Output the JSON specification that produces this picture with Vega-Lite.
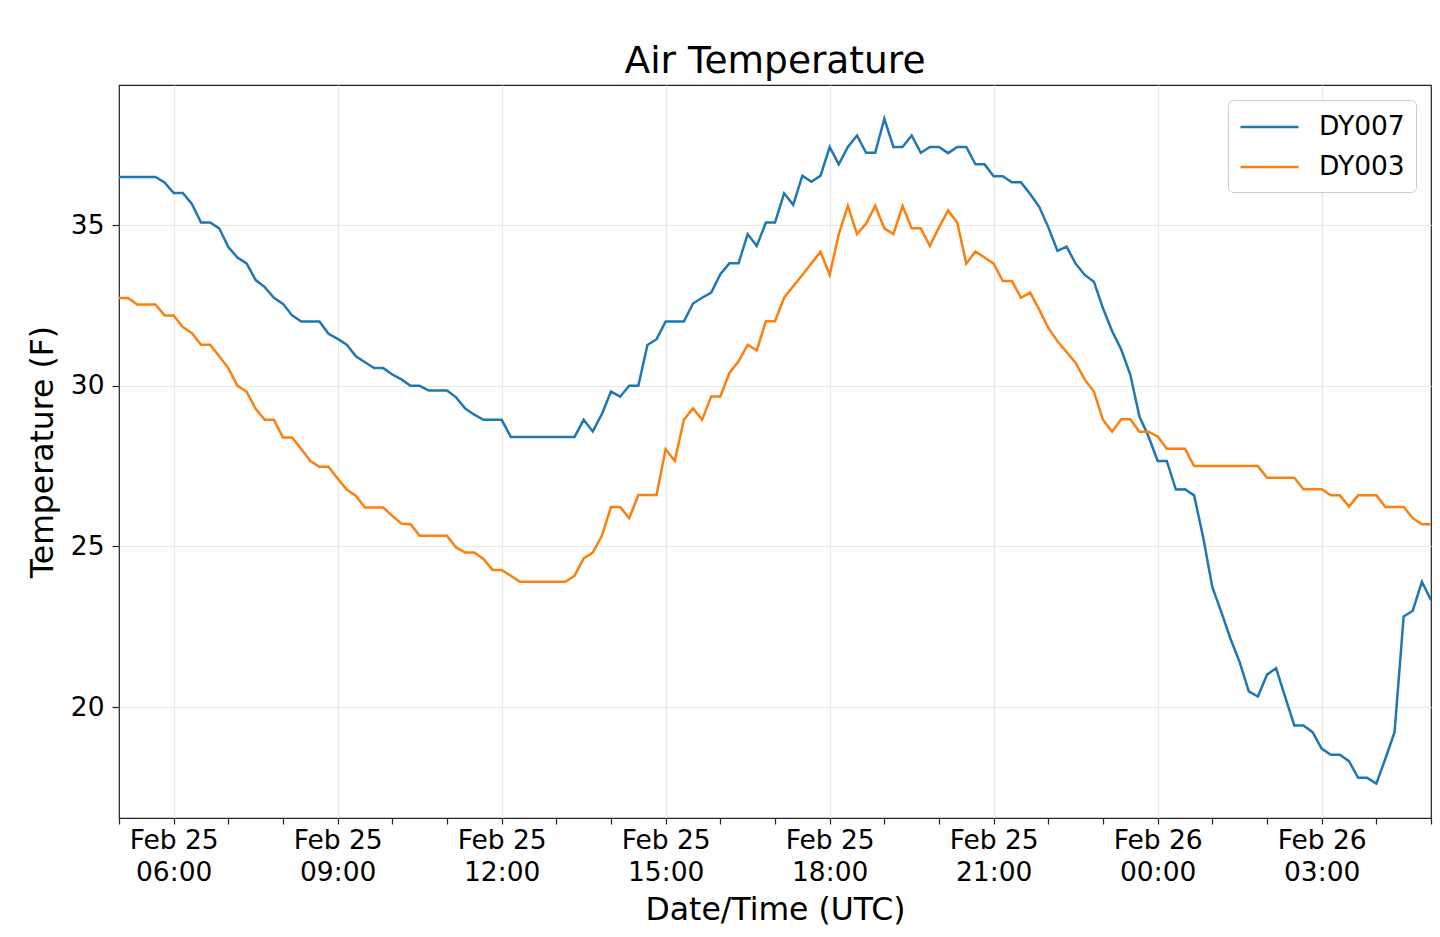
{
  "$schema": "https://vega.github.io/schema/vega-lite/v6.json",
  "description": "Air temperature at two stations, 10-minute readings.",
  "autosize": "none",
  "width": 1312,
  "height": 733,
  "padding": {"left": 119, "top": 85, "right": 9, "bottom": 119},
  "background": "white",
  "title": {
    "text": "Air Temperature",
    "font": "DejaVu Sans",
    "fontSize": 37.5,
    "fontWeight": "normal",
    "color": "black",
    "anchor": "middle",
    "offset": 5
  },
  "data": {
    "values": [
      {"time": "2020-02-25T05:00:00Z", "station": "DY007", "temp": 36.5},
      {"time": "2020-02-25T05:10:00Z", "station": "DY007", "temp": 36.5},
      {"time": "2020-02-25T05:20:00Z", "station": "DY007", "temp": 36.5},
      {"time": "2020-02-25T05:30:00Z", "station": "DY007", "temp": 36.5},
      {"time": "2020-02-25T05:40:00Z", "station": "DY007", "temp": 36.5},
      {"time": "2020-02-25T05:50:00Z", "station": "DY007", "temp": 36.33},
      {"time": "2020-02-25T06:00:00Z", "station": "DY007", "temp": 36.0},
      {"time": "2020-02-25T06:10:00Z", "station": "DY007", "temp": 36.0},
      {"time": "2020-02-25T06:20:00Z", "station": "DY007", "temp": 35.66},
      {"time": "2020-02-25T06:30:00Z", "station": "DY007", "temp": 35.08},
      {"time": "2020-02-25T06:40:00Z", "station": "DY007", "temp": 35.08},
      {"time": "2020-02-25T06:50:00Z", "station": "DY007", "temp": 34.9},
      {"time": "2020-02-25T07:00:00Z", "station": "DY007", "temp": 34.32},
      {"time": "2020-02-25T07:10:00Z", "station": "DY007", "temp": 33.99},
      {"time": "2020-02-25T07:20:00Z", "station": "DY007", "temp": 33.81},
      {"time": "2020-02-25T07:30:00Z", "station": "DY007", "temp": 33.29},
      {"time": "2020-02-25T07:40:00Z", "station": "DY007", "temp": 33.07},
      {"time": "2020-02-25T07:50:00Z", "station": "DY007", "temp": 32.74},
      {"time": "2020-02-25T08:00:00Z", "station": "DY007", "temp": 32.55},
      {"time": "2020-02-25T08:10:00Z", "station": "DY007", "temp": 32.19},
      {"time": "2020-02-25T08:20:00Z", "station": "DY007", "temp": 32.0},
      {"time": "2020-02-25T08:30:00Z", "station": "DY007", "temp": 32.0},
      {"time": "2020-02-25T08:40:00Z", "station": "DY007", "temp": 32.0},
      {"time": "2020-02-25T08:50:00Z", "station": "DY007", "temp": 31.62},
      {"time": "2020-02-25T09:00:00Z", "station": "DY007", "temp": 31.46},
      {"time": "2020-02-25T09:10:00Z", "station": "DY007", "temp": 31.28},
      {"time": "2020-02-25T09:20:00Z", "station": "DY007", "temp": 30.92},
      {"time": "2020-02-25T09:30:00Z", "station": "DY007", "temp": 30.73},
      {"time": "2020-02-25T09:40:00Z", "station": "DY007", "temp": 30.55},
      {"time": "2020-02-25T09:50:00Z", "station": "DY007", "temp": 30.55},
      {"time": "2020-02-25T10:00:00Z", "station": "DY007", "temp": 30.35},
      {"time": "2020-02-25T10:10:00Z", "station": "DY007", "temp": 30.2},
      {"time": "2020-02-25T10:20:00Z", "station": "DY007", "temp": 30.0},
      {"time": "2020-02-25T10:30:00Z", "station": "DY007", "temp": 30.0},
      {"time": "2020-02-25T10:40:00Z", "station": "DY007", "temp": 29.85},
      {"time": "2020-02-25T10:50:00Z", "station": "DY007", "temp": 29.85},
      {"time": "2020-02-25T11:00:00Z", "station": "DY007", "temp": 29.85},
      {"time": "2020-02-25T11:10:00Z", "station": "DY007", "temp": 29.64},
      {"time": "2020-02-25T11:20:00Z", "station": "DY007", "temp": 29.29},
      {"time": "2020-02-25T11:30:00Z", "station": "DY007", "temp": 29.1},
      {"time": "2020-02-25T11:40:00Z", "station": "DY007", "temp": 28.94},
      {"time": "2020-02-25T11:50:00Z", "station": "DY007", "temp": 28.94},
      {"time": "2020-02-25T12:00:00Z", "station": "DY007", "temp": 28.94},
      {"time": "2020-02-25T12:10:00Z", "station": "DY007", "temp": 28.41},
      {"time": "2020-02-25T12:20:00Z", "station": "DY007", "temp": 28.41},
      {"time": "2020-02-25T12:30:00Z", "station": "DY007", "temp": 28.41},
      {"time": "2020-02-25T12:40:00Z", "station": "DY007", "temp": 28.41},
      {"time": "2020-02-25T12:50:00Z", "station": "DY007", "temp": 28.41},
      {"time": "2020-02-25T13:00:00Z", "station": "DY007", "temp": 28.41},
      {"time": "2020-02-25T13:10:00Z", "station": "DY007", "temp": 28.41},
      {"time": "2020-02-25T13:20:00Z", "station": "DY007", "temp": 28.41},
      {"time": "2020-02-25T13:30:00Z", "station": "DY007", "temp": 28.94},
      {"time": "2020-02-25T13:40:00Z", "station": "DY007", "temp": 28.58},
      {"time": "2020-02-25T13:50:00Z", "station": "DY007", "temp": 29.12},
      {"time": "2020-02-25T14:00:00Z", "station": "DY007", "temp": 29.82},
      {"time": "2020-02-25T14:10:00Z", "station": "DY007", "temp": 29.66},
      {"time": "2020-02-25T14:20:00Z", "station": "DY007", "temp": 30.0},
      {"time": "2020-02-25T14:30:00Z", "station": "DY007", "temp": 30.0},
      {"time": "2020-02-25T14:40:00Z", "station": "DY007", "temp": 31.27},
      {"time": "2020-02-25T14:50:00Z", "station": "DY007", "temp": 31.45},
      {"time": "2020-02-25T15:00:00Z", "station": "DY007", "temp": 32.0},
      {"time": "2020-02-25T15:10:00Z", "station": "DY007", "temp": 32.0},
      {"time": "2020-02-25T15:20:00Z", "station": "DY007", "temp": 32.0},
      {"time": "2020-02-25T15:30:00Z", "station": "DY007", "temp": 32.56},
      {"time": "2020-02-25T15:40:00Z", "station": "DY007", "temp": 32.74},
      {"time": "2020-02-25T15:50:00Z", "station": "DY007", "temp": 32.9},
      {"time": "2020-02-25T16:00:00Z", "station": "DY007", "temp": 33.47},
      {"time": "2020-02-25T16:10:00Z", "station": "DY007", "temp": 33.81},
      {"time": "2020-02-25T16:20:00Z", "station": "DY007", "temp": 33.81},
      {"time": "2020-02-25T16:30:00Z", "station": "DY007", "temp": 34.72},
      {"time": "2020-02-25T16:40:00Z", "station": "DY007", "temp": 34.35},
      {"time": "2020-02-25T16:50:00Z", "station": "DY007", "temp": 35.08},
      {"time": "2020-02-25T17:00:00Z", "station": "DY007", "temp": 35.08},
      {"time": "2020-02-25T17:10:00Z", "station": "DY007", "temp": 35.99},
      {"time": "2020-02-25T17:20:00Z", "station": "DY007", "temp": 35.63},
      {"time": "2020-02-25T17:30:00Z", "station": "DY007", "temp": 36.54},
      {"time": "2020-02-25T17:40:00Z", "station": "DY007", "temp": 36.35},
      {"time": "2020-02-25T17:50:00Z", "station": "DY007", "temp": 36.54},
      {"time": "2020-02-25T18:00:00Z", "station": "DY007", "temp": 37.43},
      {"time": "2020-02-25T18:10:00Z", "station": "DY007", "temp": 36.89},
      {"time": "2020-02-25T18:20:00Z", "station": "DY007", "temp": 37.43},
      {"time": "2020-02-25T18:30:00Z", "station": "DY007", "temp": 37.79},
      {"time": "2020-02-25T18:40:00Z", "station": "DY007", "temp": 37.25},
      {"time": "2020-02-25T18:50:00Z", "station": "DY007", "temp": 37.25},
      {"time": "2020-02-25T19:00:00Z", "station": "DY007", "temp": 38.31},
      {"time": "2020-02-25T19:10:00Z", "station": "DY007", "temp": 37.43},
      {"time": "2020-02-25T19:20:00Z", "station": "DY007", "temp": 37.43},
      {"time": "2020-02-25T19:30:00Z", "station": "DY007", "temp": 37.79},
      {"time": "2020-02-25T19:40:00Z", "station": "DY007", "temp": 37.25},
      {"time": "2020-02-25T19:50:00Z", "station": "DY007", "temp": 37.43},
      {"time": "2020-02-25T20:00:00Z", "station": "DY007", "temp": 37.43},
      {"time": "2020-02-25T20:10:00Z", "station": "DY007", "temp": 37.24},
      {"time": "2020-02-25T20:20:00Z", "station": "DY007", "temp": 37.43},
      {"time": "2020-02-25T20:30:00Z", "station": "DY007", "temp": 37.43},
      {"time": "2020-02-25T20:40:00Z", "station": "DY007", "temp": 36.89},
      {"time": "2020-02-25T20:50:00Z", "station": "DY007", "temp": 36.89},
      {"time": "2020-02-25T21:00:00Z", "station": "DY007", "temp": 36.52},
      {"time": "2020-02-25T21:10:00Z", "station": "DY007", "temp": 36.52},
      {"time": "2020-02-25T21:20:00Z", "station": "DY007", "temp": 36.33},
      {"time": "2020-02-25T21:30:00Z", "station": "DY007", "temp": 36.33},
      {"time": "2020-02-25T21:40:00Z", "station": "DY007", "temp": 35.97},
      {"time": "2020-02-25T21:50:00Z", "station": "DY007", "temp": 35.57},
      {"time": "2020-02-25T22:00:00Z", "station": "DY007", "temp": 34.93},
      {"time": "2020-02-25T22:10:00Z", "station": "DY007", "temp": 34.2},
      {"time": "2020-02-25T22:20:00Z", "station": "DY007", "temp": 34.33},
      {"time": "2020-02-25T22:30:00Z", "station": "DY007", "temp": 33.8},
      {"time": "2020-02-25T22:40:00Z", "station": "DY007", "temp": 33.45},
      {"time": "2020-02-25T22:50:00Z", "station": "DY007", "temp": 33.24},
      {"time": "2020-02-25T23:00:00Z", "station": "DY007", "temp": 32.41},
      {"time": "2020-02-25T23:10:00Z", "station": "DY007", "temp": 31.7},
      {"time": "2020-02-25T23:20:00Z", "station": "DY007", "temp": 31.13},
      {"time": "2020-02-25T23:30:00Z", "station": "DY007", "temp": 30.34},
      {"time": "2020-02-25T23:40:00Z", "station": "DY007", "temp": 29.04},
      {"time": "2020-02-25T23:50:00Z", "station": "DY007", "temp": 28.42},
      {"time": "2020-02-26T00:00:00Z", "station": "DY007", "temp": 27.66},
      {"time": "2020-02-26T00:10:00Z", "station": "DY007", "temp": 27.66},
      {"time": "2020-02-26T00:20:00Z", "station": "DY007", "temp": 26.77},
      {"time": "2020-02-26T00:30:00Z", "station": "DY007", "temp": 26.78},
      {"time": "2020-02-26T00:40:00Z", "station": "DY007", "temp": 26.59},
      {"time": "2020-02-26T00:50:00Z", "station": "DY007", "temp": 25.28},
      {"time": "2020-02-26T01:00:00Z", "station": "DY007", "temp": 23.73},
      {"time": "2020-02-26T01:10:00Z", "station": "DY007", "temp": 22.95},
      {"time": "2020-02-26T01:20:00Z", "station": "DY007", "temp": 22.12},
      {"time": "2020-02-26T01:30:00Z", "station": "DY007", "temp": 21.4},
      {"time": "2020-02-26T01:40:00Z", "station": "DY007", "temp": 20.49},
      {"time": "2020-02-26T01:50:00Z", "station": "DY007", "temp": 20.33},
      {"time": "2020-02-26T02:00:00Z", "station": "DY007", "temp": 21.01},
      {"time": "2020-02-26T02:10:00Z", "station": "DY007", "temp": 21.21},
      {"time": "2020-02-26T02:20:00Z", "station": "DY007", "temp": 20.31},
      {"time": "2020-02-26T02:30:00Z", "station": "DY007", "temp": 19.43},
      {"time": "2020-02-26T02:40:00Z", "station": "DY007", "temp": 19.43},
      {"time": "2020-02-26T02:50:00Z", "station": "DY007", "temp": 19.22},
      {"time": "2020-02-26T03:00:00Z", "station": "DY007", "temp": 18.71},
      {"time": "2020-02-26T03:10:00Z", "station": "DY007", "temp": 18.52},
      {"time": "2020-02-26T03:20:00Z", "station": "DY007", "temp": 18.52},
      {"time": "2020-02-26T03:30:00Z", "station": "DY007", "temp": 18.32},
      {"time": "2020-02-26T03:40:00Z", "station": "DY007", "temp": 17.8},
      {"time": "2020-02-26T03:50:00Z", "station": "DY007", "temp": 17.8},
      {"time": "2020-02-26T04:00:00Z", "station": "DY007", "temp": 17.62},
      {"time": "2020-02-26T04:10:00Z", "station": "DY007", "temp": 18.4},
      {"time": "2020-02-26T04:20:00Z", "station": "DY007", "temp": 19.22},
      {"time": "2020-02-26T04:30:00Z", "station": "DY007", "temp": 22.82},
      {"time": "2020-02-26T04:40:00Z", "station": "DY007", "temp": 23.0},
      {"time": "2020-02-26T04:50:00Z", "station": "DY007", "temp": 23.9},
      {"time": "2020-02-26T05:00:00Z", "station": "DY007", "temp": 23.33},
      {"time": "2020-02-25T05:00:00Z", "station": "DY003", "temp": 32.73},
      {"time": "2020-02-25T05:10:00Z", "station": "DY003", "temp": 32.73},
      {"time": "2020-02-25T05:20:00Z", "station": "DY003", "temp": 32.53},
      {"time": "2020-02-25T05:30:00Z", "station": "DY003", "temp": 32.53},
      {"time": "2020-02-25T05:40:00Z", "station": "DY003", "temp": 32.53},
      {"time": "2020-02-25T05:50:00Z", "station": "DY003", "temp": 32.19},
      {"time": "2020-02-25T06:00:00Z", "station": "DY003", "temp": 32.19},
      {"time": "2020-02-25T06:10:00Z", "station": "DY003", "temp": 31.83},
      {"time": "2020-02-25T06:20:00Z", "station": "DY003", "temp": 31.64},
      {"time": "2020-02-25T06:30:00Z", "station": "DY003", "temp": 31.28},
      {"time": "2020-02-25T06:40:00Z", "station": "DY003", "temp": 31.28},
      {"time": "2020-02-25T06:50:00Z", "station": "DY003", "temp": 30.92},
      {"time": "2020-02-25T07:00:00Z", "station": "DY003", "temp": 30.55},
      {"time": "2020-02-25T07:10:00Z", "station": "DY003", "temp": 30.0},
      {"time": "2020-02-25T07:20:00Z", "station": "DY003", "temp": 29.82},
      {"time": "2020-02-25T07:30:00Z", "station": "DY003", "temp": 29.28},
      {"time": "2020-02-25T07:40:00Z", "station": "DY003", "temp": 28.94},
      {"time": "2020-02-25T07:50:00Z", "station": "DY003", "temp": 28.94},
      {"time": "2020-02-25T08:00:00Z", "station": "DY003", "temp": 28.39},
      {"time": "2020-02-25T08:10:00Z", "station": "DY003", "temp": 28.39},
      {"time": "2020-02-25T08:20:00Z", "station": "DY003", "temp": 28.03},
      {"time": "2020-02-25T08:30:00Z", "station": "DY003", "temp": 27.66},
      {"time": "2020-02-25T08:40:00Z", "station": "DY003", "temp": 27.48},
      {"time": "2020-02-25T08:50:00Z", "station": "DY003", "temp": 27.48},
      {"time": "2020-02-25T09:00:00Z", "station": "DY003", "temp": 27.11},
      {"time": "2020-02-25T09:10:00Z", "station": "DY003", "temp": 26.77},
      {"time": "2020-02-25T09:20:00Z", "station": "DY003", "temp": 26.57},
      {"time": "2020-02-25T09:30:00Z", "station": "DY003", "temp": 26.21},
      {"time": "2020-02-25T09:40:00Z", "station": "DY003", "temp": 26.21},
      {"time": "2020-02-25T09:50:00Z", "station": "DY003", "temp": 26.21},
      {"time": "2020-02-25T10:00:00Z", "station": "DY003", "temp": 25.95},
      {"time": "2020-02-25T10:10:00Z", "station": "DY003", "temp": 25.71},
      {"time": "2020-02-25T10:20:00Z", "station": "DY003", "temp": 25.69},
      {"time": "2020-02-25T10:30:00Z", "station": "DY003", "temp": 25.33},
      {"time": "2020-02-25T10:40:00Z", "station": "DY003", "temp": 25.33},
      {"time": "2020-02-25T10:50:00Z", "station": "DY003", "temp": 25.33},
      {"time": "2020-02-25T11:00:00Z", "station": "DY003", "temp": 25.33},
      {"time": "2020-02-25T11:10:00Z", "station": "DY003", "temp": 24.97},
      {"time": "2020-02-25T11:20:00Z", "station": "DY003", "temp": 24.81},
      {"time": "2020-02-25T11:30:00Z", "station": "DY003", "temp": 24.81},
      {"time": "2020-02-25T11:40:00Z", "station": "DY003", "temp": 24.61},
      {"time": "2020-02-25T11:50:00Z", "station": "DY003", "temp": 24.27},
      {"time": "2020-02-25T12:00:00Z", "station": "DY003", "temp": 24.27},
      {"time": "2020-02-25T12:10:00Z", "station": "DY003", "temp": 24.09},
      {"time": "2020-02-25T12:20:00Z", "station": "DY003", "temp": 23.9},
      {"time": "2020-02-25T12:30:00Z", "station": "DY003", "temp": 23.9},
      {"time": "2020-02-25T12:40:00Z", "station": "DY003", "temp": 23.9},
      {"time": "2020-02-25T12:50:00Z", "station": "DY003", "temp": 23.9},
      {"time": "2020-02-25T13:00:00Z", "station": "DY003", "temp": 23.9},
      {"time": "2020-02-25T13:10:00Z", "station": "DY003", "temp": 23.9},
      {"time": "2020-02-25T13:20:00Z", "station": "DY003", "temp": 24.09},
      {"time": "2020-02-25T13:30:00Z", "station": "DY003", "temp": 24.63},
      {"time": "2020-02-25T13:40:00Z", "station": "DY003", "temp": 24.81},
      {"time": "2020-02-25T13:50:00Z", "station": "DY003", "temp": 25.33},
      {"time": "2020-02-25T14:00:00Z", "station": "DY003", "temp": 26.23},
      {"time": "2020-02-25T14:10:00Z", "station": "DY003", "temp": 26.23},
      {"time": "2020-02-25T14:20:00Z", "station": "DY003", "temp": 25.88},
      {"time": "2020-02-25T14:30:00Z", "station": "DY003", "temp": 26.6},
      {"time": "2020-02-25T14:40:00Z", "station": "DY003", "temp": 26.6},
      {"time": "2020-02-25T14:50:00Z", "station": "DY003", "temp": 26.6},
      {"time": "2020-02-25T15:00:00Z", "station": "DY003", "temp": 28.03},
      {"time": "2020-02-25T15:10:00Z", "station": "DY003", "temp": 27.66},
      {"time": "2020-02-25T15:20:00Z", "station": "DY003", "temp": 28.94},
      {"time": "2020-02-25T15:30:00Z", "station": "DY003", "temp": 29.3},
      {"time": "2020-02-25T15:40:00Z", "station": "DY003", "temp": 28.94},
      {"time": "2020-02-25T15:50:00Z", "station": "DY003", "temp": 29.67},
      {"time": "2020-02-25T16:00:00Z", "station": "DY003", "temp": 29.67},
      {"time": "2020-02-25T16:10:00Z", "station": "DY003", "temp": 30.4},
      {"time": "2020-02-25T16:20:00Z", "station": "DY003", "temp": 30.76},
      {"time": "2020-02-25T16:30:00Z", "station": "DY003", "temp": 31.28},
      {"time": "2020-02-25T16:40:00Z", "station": "DY003", "temp": 31.1},
      {"time": "2020-02-25T16:50:00Z", "station": "DY003", "temp": 32.01},
      {"time": "2020-02-25T17:00:00Z", "station": "DY003", "temp": 32.01},
      {"time": "2020-02-25T17:10:00Z", "station": "DY003", "temp": 32.74},
      {"time": "2020-02-25T17:20:00Z", "station": "DY003", "temp": 33.1},
      {"time": "2020-02-25T17:30:00Z", "station": "DY003", "temp": 33.45},
      {"time": "2020-02-25T17:40:00Z", "station": "DY003", "temp": 33.81},
      {"time": "2020-02-25T17:50:00Z", "station": "DY003", "temp": 34.17},
      {"time": "2020-02-25T18:00:00Z", "station": "DY003", "temp": 33.45},
      {"time": "2020-02-25T18:10:00Z", "station": "DY003", "temp": 34.72},
      {"time": "2020-02-25T18:20:00Z", "station": "DY003", "temp": 35.6},
      {"time": "2020-02-25T18:30:00Z", "station": "DY003", "temp": 34.72},
      {"time": "2020-02-25T18:40:00Z", "station": "DY003", "temp": 35.05},
      {"time": "2020-02-25T18:50:00Z", "station": "DY003", "temp": 35.6},
      {"time": "2020-02-25T19:00:00Z", "station": "DY003", "temp": 34.9},
      {"time": "2020-02-25T19:10:00Z", "station": "DY003", "temp": 34.72},
      {"time": "2020-02-25T19:20:00Z", "station": "DY003", "temp": 35.6},
      {"time": "2020-02-25T19:30:00Z", "station": "DY003", "temp": 34.9},
      {"time": "2020-02-25T19:40:00Z", "station": "DY003", "temp": 34.9},
      {"time": "2020-02-25T19:50:00Z", "station": "DY003", "temp": 34.35},
      {"time": "2020-02-25T20:00:00Z", "station": "DY003", "temp": 34.93},
      {"time": "2020-02-25T20:10:00Z", "station": "DY003", "temp": 35.45},
      {"time": "2020-02-25T20:20:00Z", "station": "DY003", "temp": 35.08},
      {"time": "2020-02-25T20:30:00Z", "station": "DY003", "temp": 33.8},
      {"time": "2020-02-25T20:40:00Z", "station": "DY003", "temp": 34.18},
      {"time": "2020-02-25T20:50:00Z", "station": "DY003", "temp": 33.99},
      {"time": "2020-02-25T21:00:00Z", "station": "DY003", "temp": 33.8},
      {"time": "2020-02-25T21:10:00Z", "station": "DY003", "temp": 33.26},
      {"time": "2020-02-25T21:20:00Z", "station": "DY003", "temp": 33.26},
      {"time": "2020-02-25T21:30:00Z", "station": "DY003", "temp": 32.74},
      {"time": "2020-02-25T21:40:00Z", "station": "DY003", "temp": 32.9},
      {"time": "2020-02-25T21:50:00Z", "station": "DY003", "temp": 32.37},
      {"time": "2020-02-25T22:00:00Z", "station": "DY003", "temp": 31.8},
      {"time": "2020-02-25T22:10:00Z", "station": "DY003", "temp": 31.39},
      {"time": "2020-02-25T22:20:00Z", "station": "DY003", "temp": 31.05},
      {"time": "2020-02-25T22:30:00Z", "station": "DY003", "temp": 30.71},
      {"time": "2020-02-25T22:40:00Z", "station": "DY003", "temp": 30.19},
      {"time": "2020-02-25T22:50:00Z", "station": "DY003", "temp": 29.82},
      {"time": "2020-02-25T23:00:00Z", "station": "DY003", "temp": 28.94},
      {"time": "2020-02-25T23:10:00Z", "station": "DY003", "temp": 28.57},
      {"time": "2020-02-25T23:20:00Z", "station": "DY003", "temp": 28.96},
      {"time": "2020-02-25T23:30:00Z", "station": "DY003", "temp": 28.96},
      {"time": "2020-02-25T23:40:00Z", "station": "DY003", "temp": 28.57},
      {"time": "2020-02-25T23:50:00Z", "station": "DY003", "temp": 28.57},
      {"time": "2020-02-26T00:00:00Z", "station": "DY003", "temp": 28.42},
      {"time": "2020-02-26T00:10:00Z", "station": "DY003", "temp": 28.04},
      {"time": "2020-02-26T00:20:00Z", "station": "DY003", "temp": 28.04},
      {"time": "2020-02-26T00:30:00Z", "station": "DY003", "temp": 28.04},
      {"time": "2020-02-26T00:40:00Z", "station": "DY003", "temp": 27.5},
      {"time": "2020-02-26T00:50:00Z", "station": "DY003", "temp": 27.5},
      {"time": "2020-02-26T01:00:00Z", "station": "DY003", "temp": 27.5},
      {"time": "2020-02-26T01:10:00Z", "station": "DY003", "temp": 27.5},
      {"time": "2020-02-26T01:20:00Z", "station": "DY003", "temp": 27.5},
      {"time": "2020-02-26T01:30:00Z", "station": "DY003", "temp": 27.5},
      {"time": "2020-02-26T01:40:00Z", "station": "DY003", "temp": 27.5},
      {"time": "2020-02-26T01:50:00Z", "station": "DY003", "temp": 27.5},
      {"time": "2020-02-26T02:00:00Z", "station": "DY003", "temp": 27.14},
      {"time": "2020-02-26T02:10:00Z", "station": "DY003", "temp": 27.14},
      {"time": "2020-02-26T02:20:00Z", "station": "DY003", "temp": 27.14},
      {"time": "2020-02-26T02:30:00Z", "station": "DY003", "temp": 27.14},
      {"time": "2020-02-26T02:40:00Z", "station": "DY003", "temp": 26.78},
      {"time": "2020-02-26T02:50:00Z", "station": "DY003", "temp": 26.78},
      {"time": "2020-02-26T03:00:00Z", "station": "DY003", "temp": 26.78},
      {"time": "2020-02-26T03:10:00Z", "station": "DY003", "temp": 26.59},
      {"time": "2020-02-26T03:20:00Z", "station": "DY003", "temp": 26.59},
      {"time": "2020-02-26T03:30:00Z", "station": "DY003", "temp": 26.24},
      {"time": "2020-02-26T03:40:00Z", "station": "DY003", "temp": 26.59},
      {"time": "2020-02-26T03:50:00Z", "station": "DY003", "temp": 26.59},
      {"time": "2020-02-26T04:00:00Z", "station": "DY003", "temp": 26.59},
      {"time": "2020-02-26T04:10:00Z", "station": "DY003", "temp": 26.23},
      {"time": "2020-02-26T04:20:00Z", "station": "DY003", "temp": 26.23},
      {"time": "2020-02-26T04:30:00Z", "station": "DY003", "temp": 26.23},
      {"time": "2020-02-26T04:40:00Z", "station": "DY003", "temp": 25.88},
      {"time": "2020-02-26T04:50:00Z", "station": "DY003", "temp": 25.69},
      {"time": "2020-02-26T05:00:00Z", "station": "DY003", "temp": 25.69}
    ]
  },
  "mark": {"type": "line", "strokeWidth": 2.5, "clip": true},
  "encoding": {
    "x": {
      "field": "time",
      "type": "temporal",
      "scale": {"nice": false},
      "axis": {
        "title": "Date/Time (UTC)",
        "values": [
          {"year": 2020, "month": 2, "date": 25, "hours": 5},
          {"year": 2020, "month": 2, "date": 25, "hours": 6},
          {"year": 2020, "month": 2, "date": 25, "hours": 7},
          {"year": 2020, "month": 2, "date": 25, "hours": 8},
          {"year": 2020, "month": 2, "date": 25, "hours": 9},
          {"year": 2020, "month": 2, "date": 25, "hours": 10},
          {"year": 2020, "month": 2, "date": 25, "hours": 11},
          {"year": 2020, "month": 2, "date": 25, "hours": 12},
          {"year": 2020, "month": 2, "date": 25, "hours": 13},
          {"year": 2020, "month": 2, "date": 25, "hours": 14},
          {"year": 2020, "month": 2, "date": 25, "hours": 15},
          {"year": 2020, "month": 2, "date": 25, "hours": 16},
          {"year": 2020, "month": 2, "date": 25, "hours": 17},
          {"year": 2020, "month": 2, "date": 25, "hours": 18},
          {"year": 2020, "month": 2, "date": 25, "hours": 19},
          {"year": 2020, "month": 2, "date": 25, "hours": 20},
          {"year": 2020, "month": 2, "date": 25, "hours": 21},
          {"year": 2020, "month": 2, "date": 25, "hours": 22},
          {"year": 2020, "month": 2, "date": 25, "hours": 23},
          {"year": 2020, "month": 2, "date": 26, "hours": 0},
          {"year": 2020, "month": 2, "date": 26, "hours": 1},
          {"year": 2020, "month": 2, "date": 26, "hours": 2},
          {"year": 2020, "month": 2, "date": 26, "hours": 3},
          {"year": 2020, "month": 2, "date": 26, "hours": 4},
          {"year": 2020, "month": 2, "date": 26, "hours": 5}
        ],
        "labelExpr": "hours(datum.value) % 3 == 0 ? [timeFormat(datum.value, '%b %d'), timeFormat(datum.value, '%H:%M')] : ''",
        "labelOverlap": false,
        "labelFlush": false,
        "labelAlign": "center",
        "labelBaseline": "top",
        "labelLineHeight": 32,
        "labelPadding": 3,
        "tickSize": 6,
        "gridOpacity": {"condition": {"test": "hours(datum.value) % 3 == 0", "value": 1}, "value": 0},
        "titlePadding": 9
      }
    },
    "y": {
      "field": "temp",
      "type": "quantitative",
      "scale": {"domain": [16.55, 39.36], "nice": false, "zero": false},
      "axis": {
        "title": "Temperature (F)",
        "values": [20, 25, 30, 35],
        "tickSize": 7,
        "labelPadding": 8,
        "titlePadding": 11
      }
    },
    "color": {
      "field": "station",
      "type": "nominal",
      "scale": {"domain": ["DY007", "DY003"], "range": ["#1f77b4", "#ff7f0e"]},
      "legend": {
        "title": null,
        "orient": "top-right",
        "offset": 15,
        "symbolType": "M-1,0H3",
        "symbolSize": 841,
        "symbolStrokeWidth": 2.5,
        "labelOffset": 48,
        "rowPadding": 10,
        "padding": 11,
        "strokeColor": "#cccccc",
        "fillColor": "white",
        "cornerRadius": 5
      }
    }
  },
  "config": {
    "font": "DejaVu Sans",
    "view": {"stroke": "#222222", "strokeWidth": 1.2},
    "axis": {
      "domain": false,
      "labelFont": "DejaVu Sans",
      "labelFontSize": 26.5,
      "labelColor": "black",
      "titleFont": "DejaVu Sans",
      "titleFontSize": 31.5,
      "titleFontWeight": "normal",
      "titleColor": "black",
      "tickColor": "#222222",
      "tickWidth": 1.2,
      "gridColor": "#e8e8e8",
      "gridWidth": 1.2
    },
    "legend": {
      "labelFont": "DejaVu Sans",
      "labelFontSize": 26.5,
      "labelColor": "black"
    }
  }
}
